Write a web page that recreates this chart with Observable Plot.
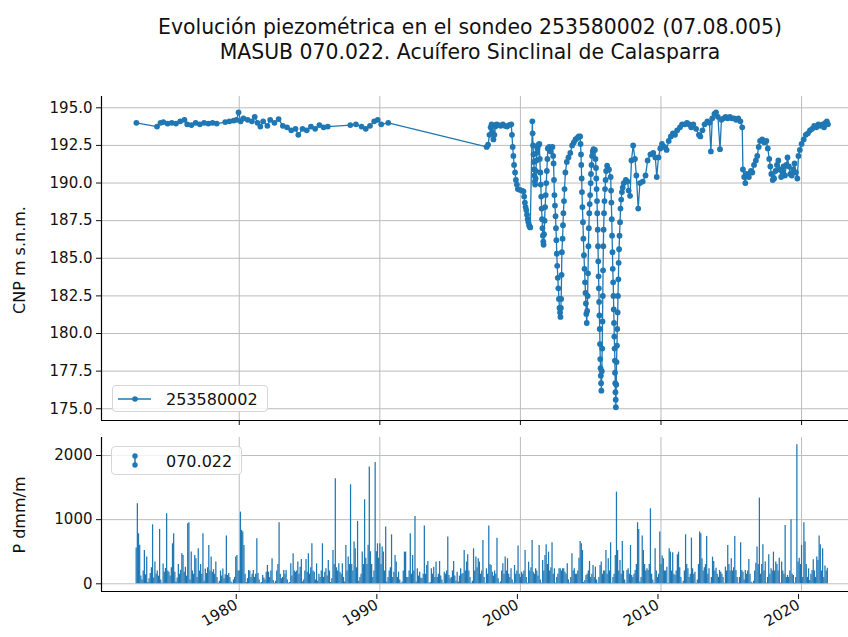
<!DOCTYPE html>
<html><head><meta charset="utf-8">
<script src="https://cdn.jsdelivr.net/npm/d3@7"></script>
<script src="https://cdn.jsdelivr.net/npm/@observablehq/plot@0.6"></script>
<style>
body{margin:0;background:#fff;font-family:"DejaVu Sans",sans-serif;overflow:hidden}
#wrap{position:relative;width:848px;height:637px;overflow:hidden;background:#fff}
.title{position:absolute;left:0;width:940px;text-align:center;font-size:20.4px;line-height:25px;color:#111;white-space:nowrap}
.ylab{position:absolute;font-size:16px;color:#111;white-space:nowrap;transform:translate(-50%,-50%) rotate(-90deg)}
.legend{position:absolute;border:1px solid #d6d6d6;border-radius:4px;background:rgba(255,255,255,0.8);box-sizing:border-box}
.legend span{position:absolute;font-size:16px;color:#111;white-space:nowrap;top:50%;transform:translateY(-50%)}
.legend svg{position:absolute;left:0;top:0}
#top,#bot{position:absolute;left:0}
</style></head><body>
<div id="wrap">
  <div class="title" style="top:15px">Evolución piezométrica en el sondeo 253580002 (07.08.005)</div>
  <div class="title" style="top:40px">MASUB 070.022. Acuífero Sinclinal de Calasparra</div>
  <div id="top" style="top:86px"></div>
  <div id="bot" style="top:430px"></div>
  <div class="ylab" style="left:19px;top:260px">CNP m s.n.m.</div>
  <div class="ylab" style="left:19px;top:515px">P dmm/m</div>
  <div class="legend" style="left:112px;top:385px;width:156px;height:27px">
    <svg width="156" height="27"><line x1="5" x2="38" y1="13" y2="13" stroke="#1f77b4" stroke-width="1.3"/><circle cx="22" cy="13" r="2.8" fill="#1f77b4"/></svg>
    <span style="left:53px">253580002</span>
  </div>
  <div class="legend" style="left:111px;top:446px;width:131px;height:29px">
    <svg width="131" height="29"><line x1="23" x2="23" y1="9" y2="18" stroke="#1f77b4" stroke-width="1.5"/><circle cx="23" cy="9" r="2.7" fill="#1f77b4"/><circle cx="23" cy="18" r="2.7" fill="#1f77b4"/></svg>
    <span style="left:54px">070.022</span>
  </div>
</div>
<script>
// ---- Piezometric level (CNP, m a.s.l.) ----
const piezoDate = [
 1972.68,1974.15,1974.4,1974.6,1974.9,1975.2,1975.5,1975.8,1976.1,1976.3,1976.6,1976.9,1977.2,1977.5,1977.8,1978.1,1978.4,
 1979.0,1979.3,1979.6,1979.8,1979.95,1980.1,1980.3,1980.6,1980.9,1981.1,1981.3,1981.5,1981.7,1982.0,1982.2,1982.5,1982.8,
 1983.1,1983.4,1983.7,1984.0,1984.2,1984.5,1984.8,1985.1,1985.4,1985.7,1986.0,1986.3,1987.9,1988.3,1988.7,1989.0,1989.3,
 1989.6,1989.85,1990.1,1990.6,
 1997.60,1997.70,1997.80,1997.88,1997.95,1998.02,1998.08,1998.15,1998.22,1998.30,1998.45,1998.60,1998.75,1998.90,1999.05,
 1999.20,1999.35,1999.40,1999.45,1999.50,1999.55,1999.62,1999.68,1999.75,1999.82,1999.95,2000.10,2000.22,2000.27,2000.32,
 2000.37,2000.42,2000.47,2000.52,2000.57,2000.62,2000.66,2000.70,2000.85,2000.87,2000.90,2000.93,2000.95,2000.98,2001.00,
 2001.03,2001.05,2001.08,2001.10,2001.14,2001.17,2001.21,2001.25,2001.30,2001.35,2001.38,2001.42,2001.45,2001.48,2001.51,
 2001.54,2001.57,2001.60,2001.63,2001.65,2001.68,2001.72,2001.76,2001.80,2001.84,2001.88,2001.92,2001.95,2002.05,2002.15,
 2002.28,2002.33,2002.36,2002.39,2002.42,2002.46,2002.50,2002.53,2002.56,2002.59,2002.62,2002.66,2002.70,2002.74,2002.78,
 2002.82,2002.85,2002.88,2002.90,2002.93,2002.95,2003.00,2003.03,2003.06,2003.10,2003.14,2003.20,2003.30,2003.42,2003.55,
 2003.68,2003.80,2003.92,2004.05,2004.15,2004.25,2004.28,2004.31,2004.33,2004.36,2004.38,2004.41,2004.45,2004.48,2004.52,
 2004.56,2004.60,2004.63,2004.66,2004.69,2004.72,2004.75,2004.78,2004.81,2004.84,2004.87,2004.90,2004.93,2004.96,2005.00,
 2005.02,2005.06,2005.10,2005.15,2005.20,2005.30,2005.34,2005.38,2005.40,2005.42,2005.45,2005.47,2005.50,2005.52,2005.54,
 2005.56,2005.58,2005.60,2005.62,2005.64,2005.66,2005.68,2005.70,2005.72,2005.74,2005.76,2005.79,2005.82,2005.84,2005.86,
 2005.88,2005.90,2005.92,2005.95,2005.98,2006.02,2006.06,2006.10,2006.17,2006.30,2006.42,2006.45,2006.47,2006.50,2006.52,
 2006.55,2006.57,2006.60,2006.62,2006.64,2006.66,2006.68,2006.70,2006.72,2006.73,2006.75,2006.76,2006.78,2006.79,2006.82,
 2006.84,2006.87,2006.89,2006.92,2006.94,2006.97,2006.99,2007.02,2007.05,2007.09,2007.12,2007.17,2007.22,2007.28,2007.35,
 2007.50,2007.62,2007.70,2007.80,2007.90,2008.02,2008.15,2008.25,2008.38,2008.50,2008.70,
 2008.90,2009.05,2009.25,2009.45,2009.60,2009.70,2009.82,2009.95,2010.07,2010.25,2010.40,2010.55,2010.70,2010.85,2011.00,
 2011.15,2011.35,2011.50,2011.70,2011.85,2012.00,2012.15,2012.30,2012.50,2012.70,2012.80,2012.95,2013.10,2013.30,2013.45,
 2013.55,2013.65,2013.80,2013.92,2014.05,2014.20,2014.30,2014.45,2014.60,2014.75,2014.90,2015.05,2015.20,2015.35,2015.50,
 2015.65,2015.78,2015.83,2015.92,2016.00,2016.10,2016.25,2016.40,2016.50,2016.62,2016.75,2016.85,2016.95,2017.05,2017.20,
 2017.35,2017.50,2017.60,2017.70,2017.78,2017.85,2017.95,2018.05,2018.15,2018.25,2018.35,2018.45,2018.55,2018.62,2018.72,
 2018.82,2018.92,2019.00,2019.10,2019.20,2019.30,2019.40,2019.50,2019.60,2019.70,2019.78,2019.88,2020.00,2020.15,2020.30,
 2020.45,2020.60,2020.75,2020.90,2021.05,2021.20,2021.35,2021.50,2021.60,2021.70,2021.80,2021.88
];
const piezoLevel = [
 194.0,193.75,194.0,194.05,193.95,194.0,193.95,194.1,194.2,193.9,193.85,194.0,193.9,194.0,193.95,194.0,193.95,
 194.05,194.1,194.15,194.2,194.7,194.1,194.3,194.2,194.1,194.4,194.0,193.75,194.1,193.8,194.2,194.0,194.25,
 193.8,193.7,193.5,193.6,193.2,193.6,193.5,193.75,193.6,193.85,193.7,193.75,193.85,193.9,193.75,193.6,193.8,
 194.1,194.2,193.9,194.0,
 192.40,192.55,193.20,193.70,193.90,193.40,192.90,193.20,193.75,193.90,193.85,193.80,193.90,193.80,193.75,
 193.85,193.90,193.20,192.40,191.80,191.20,190.70,190.20,189.90,189.60,189.55,189.50,189.45,189.10,188.70,
 188.40,188.20,187.90,187.60,187.40,187.20,187.10,187.05,194.10,193.30,192.50,191.90,191.40,190.90,190.50,
 190.10,189.90,190.30,190.80,191.50,192.00,192.30,192.50,192.55,192.60,191.60,190.70,189.90,189.10,188.30,
 187.60,187.00,186.50,186.10,185.90,186.60,187.50,188.40,189.20,190.00,190.80,191.60,192.30,192.40,192.10,
 192.40,191.80,191.30,190.20,189.20,188.50,187.80,187.00,186.20,185.30,184.50,183.70,183.00,182.30,181.70,
 181.40,181.10,181.70,182.30,183.90,185.40,186.30,187.20,188.00,188.80,189.60,190.70,191.40,191.70,192.00,
 192.50,192.70,192.90,193.00,193.10,193.10,192.60,191.90,191.20,190.30,189.40,188.40,187.40,186.30,185.20,
 184.30,183.40,182.70,182.00,181.30,180.70,181.50,182.50,184.00,185.80,187.00,188.00,188.60,189.20,190.00,
 190.60,191.20,191.80,192.10,192.25,192.20,191.60,191.00,190.30,189.60,188.80,188.00,186.90,185.80,184.80,
 183.80,183.00,182.10,181.20,180.30,179.30,178.30,177.70,177.20,176.70,176.20,177.50,179.00,180.80,182.50,
 184.20,185.80,186.90,188.00,188.80,189.60,190.20,190.80,191.15,190.90,190.40,189.50,188.70,187.60,186.50,
 185.40,184.30,183.40,182.50,181.60,180.70,179.80,179.00,178.20,177.40,176.70,176.10,175.60,175.10,176.60,
 178.10,179.20,180.30,181.40,182.50,183.60,184.70,185.60,186.50,187.40,188.30,188.90,189.40,189.70,190.00,
 190.20,190.10,189.50,189.15,191.50,192.50,191.60,190.50,188.30,190.00,190.10,
 190.50,191.50,191.90,192.00,191.70,190.40,191.70,192.30,192.60,192.40,192.20,192.80,193.10,193.30,193.20,
 193.50,193.70,193.90,193.90,194.00,193.90,193.70,193.90,193.60,193.20,193.10,193.50,193.90,194.10,194.00,
 192.10,194.30,194.60,194.70,194.40,192.25,194.20,194.30,194.40,194.30,194.40,194.30,194.30,194.20,194.30,
 194.10,193.70,190.90,190.40,190.00,190.60,190.40,190.80,190.70,191.20,191.50,191.80,192.40,192.80,192.90,
 192.70,192.80,192.30,191.60,191.10,190.60,190.20,190.30,190.80,191.20,191.50,190.90,190.40,190.80,191.10,
 190.50,191.20,191.70,191.10,190.60,190.50,190.90,191.30,190.70,190.30,191.80,192.20,192.60,192.90,193.20,
 193.30,193.50,193.60,193.80,193.70,193.90,193.80,193.90,193.70,194.00,194.10,193.90
];

// ---- Monthly precipitation (dmm/month), starting September 1972 ----
const precipStartYear = 1972;
const precipStartMonth = 9;
const precip = [
 560,1250,780,600,
 120,60,200,520,140,416,20,80,160,250,920,90,
 338,150,200,120,848,60,10,310,180,240,1092,200,
 180,120,250,624,780,180,30,90,300,150,210,468,
 440,180,260,120,936,952,60,494,200,150,440,390,
 100,546,200,300,150,780,40,230,160,250,598,200,
 416,180,220,150,338,100,10,40,200,120,230,80,
 140,744,130,160,100,30,10,60,100,416,440,200,
 200,1118,832,806,598,150,20,80,208,200,100,150,
 208,100,150,702,160,60,10,20,130,90,60,180,
 286,182,100,200,390,50,10,40,200,300,952,150,
 80,100,208,150,208,60,10,20,312,120,468,200,
 180,200,338,150,260,380,30,60,200,380,180,468,
 150,250,624,200,180,60,312,40,150,100,200,624,
 100,180,234,120,364,200,20,80,520,300,1638,250,
 200,312,180,150,312,100,30,598,200,416,300,1544,
 300,200,650,546,250,972,40,100,150,494,300,1310,
 400,300,600,1820,500,300,100,200,1890,500,624,400,
 624,300,572,494,200,884,30,100,200,250,764,100,
 182,442,338,100,182,60,10,30,200,494,494,100,
 100,200,780,150,442,200,1050,30,234,120,182,90,
 80,150,900,150,286,348,10,20,234,150,260,100,
 338,100,150,348,120,60,10,182,150,200,728,130,
 80,100,200,348,120,40,182,30,120,234,150,160,
 520,200,338,452,200,100,10,40,546,200,416,250,
 390,338,150,200,676,100,10,234,150,900,300,286,
 182,120,200,150,712,80,10,30,200,312,150,416,
 200,390,150,100,234,60,10,286,150,200,588,150,
 100,182,150,200,520,100,10,338,200,250,676,180,
 150,234,200,120,598,60,10,364,200,442,608,300,
 494,200,250,640,150,234,10,100,150,234,234,200,
 234,234,180,150,312,60,10,100,468,200,234,150,
 150,200,400,660,624,520,20,50,130,150,200,348,
 100,150,286,100,260,60,10,100,286,338,150,200,
 200,520,150,390,200,640,10,100,150,442,1430,520,
 200,364,150,660,200,60,10,208,234,150,598,130,
 100,150,208,300,952,848,30,100,744,520,300,200,
 234,208,300,1170,150,60,10,546,200,100,150,806,
 300,432,390,200,200,260,10,546,494,200,484,150,
 130,200,452,494,250,100,10,40,200,764,300,234,
 100,150,712,234,150,182,10,60,300,806,780,390,
 200,250,300,738,150,234,10,100,416,348,200,244,
 150,100,208,182,150,100,10,260,200,598,300,200,
 390,200,250,738,208,100,10,100,640,208,182,60,
 208,150,200,380,150,26,10,40,200,322,572,300,
 1336,150,300,608,200,338,10,100,452,150,234,200,
 494,200,338,300,200,400,10,338,200,150,910,100,
 130,100,200,998,150,130,10,100,2168,338,400,300,
 598,100,952,650,300,100,234,50,150,208,374,200,
 100,416,364,744,608,200,546,100,276,200,244
];

// ---- Ticks ----
const xTicks = [1980, 1990, 2000, 2010, 2020];
const yTicksTop = [175, 177.5, 180, 182.5, 185, 187.5, 190, 192.5, 195];
const yTicksBot = [0, 1000, 2000];

const X_DOMAIN = [1970.2, 2023.34];
const Y_TOP = [174.22, 195.75];
const Y_BOT = [-120, 2281];

const piezo = piezoDate.map((t, i) => ({t, v: piezoLevel[i]}));
const rain = precip.map((v, i) => ({t: precipStartYear + (precipStartMonth - 1 + i) / 12, v}));

const BLUE = "#1f77b4";
const GRID = "#bcbcbc";
const style = {fontFamily: "DejaVu Sans", fontSize: "15px", color: "#111", background: "transparent", overflow: "visible"};

const topChart = Plot.plot({
  width: 848, height: 344, marginLeft: 101, marginRight: 0, marginTop: 10, marginBottom: 10,
  style,
  x: {domain: X_DOMAIN, axis: null, label: null},
  y: {domain: Y_TOP, axis: null, label: null},
  marks: [
    Plot.ruleX(xTicks, {stroke: GRID, strokeWidth: 1}),
    Plot.ruleY(yTicksTop, {stroke: GRID, strokeWidth: 1}),
    Plot.line(piezo, {x: "t", y: "v", stroke: BLUE, strokeWidth: 1.3}),
    Plot.dot(piezo, {x: "t", y: "v", r: 2.9, fill: BLUE}),
    Plot.axisX(xTicks, {tickSize: 5, tickFormat: () => "", label: null}),
    Plot.axisY(yTicksTop, {tickSize: 5, tickPadding: 4, tickFormat: d => d.toFixed(1), label: null}),
    Plot.ruleX([X_DOMAIN[0]], {stroke: "#000", strokeWidth: 1.2}),
    Plot.ruleY([Y_TOP[0]], {stroke: "#000", strokeWidth: 1.2})
  ]
});
document.getElementById("top").appendChild(topChart);

const botChart = Plot.plot({
  width: 848, height: 207, marginLeft: 101, marginRight: 0, marginTop: 7, marginBottom: 46,
  style,
  x: {domain: X_DOMAIN, axis: null, label: null},
  y: {domain: Y_BOT, axis: null, label: null},
  marks: [
    Plot.ruleX(xTicks, {stroke: GRID, strokeWidth: 1}),
    Plot.ruleY(yTicksBot, {stroke: GRID, strokeWidth: 1}),
    Plot.ruleX(rain, {x: "t", y1: 0, y2: "v", stroke: BLUE, strokeWidth: 1.25}),
    Plot.axisX(xTicks, {tickSize: 5, tickPadding: 4, tickRotate: -30, tickFormat: d => String(d), label: null, dx: -3, dy: 3}),
    Plot.axisY(yTicksBot, {tickSize: 5, tickPadding: 4, tickFormat: d => String(d), label: null}),
    Plot.ruleX([X_DOMAIN[0]], {stroke: "#000", strokeWidth: 1.2}),
    Plot.ruleY([Y_BOT[0]], {stroke: "#000", strokeWidth: 1.2})
  ]
});
document.getElementById("bot").appendChild(botChart);
</script>
</body></html>
